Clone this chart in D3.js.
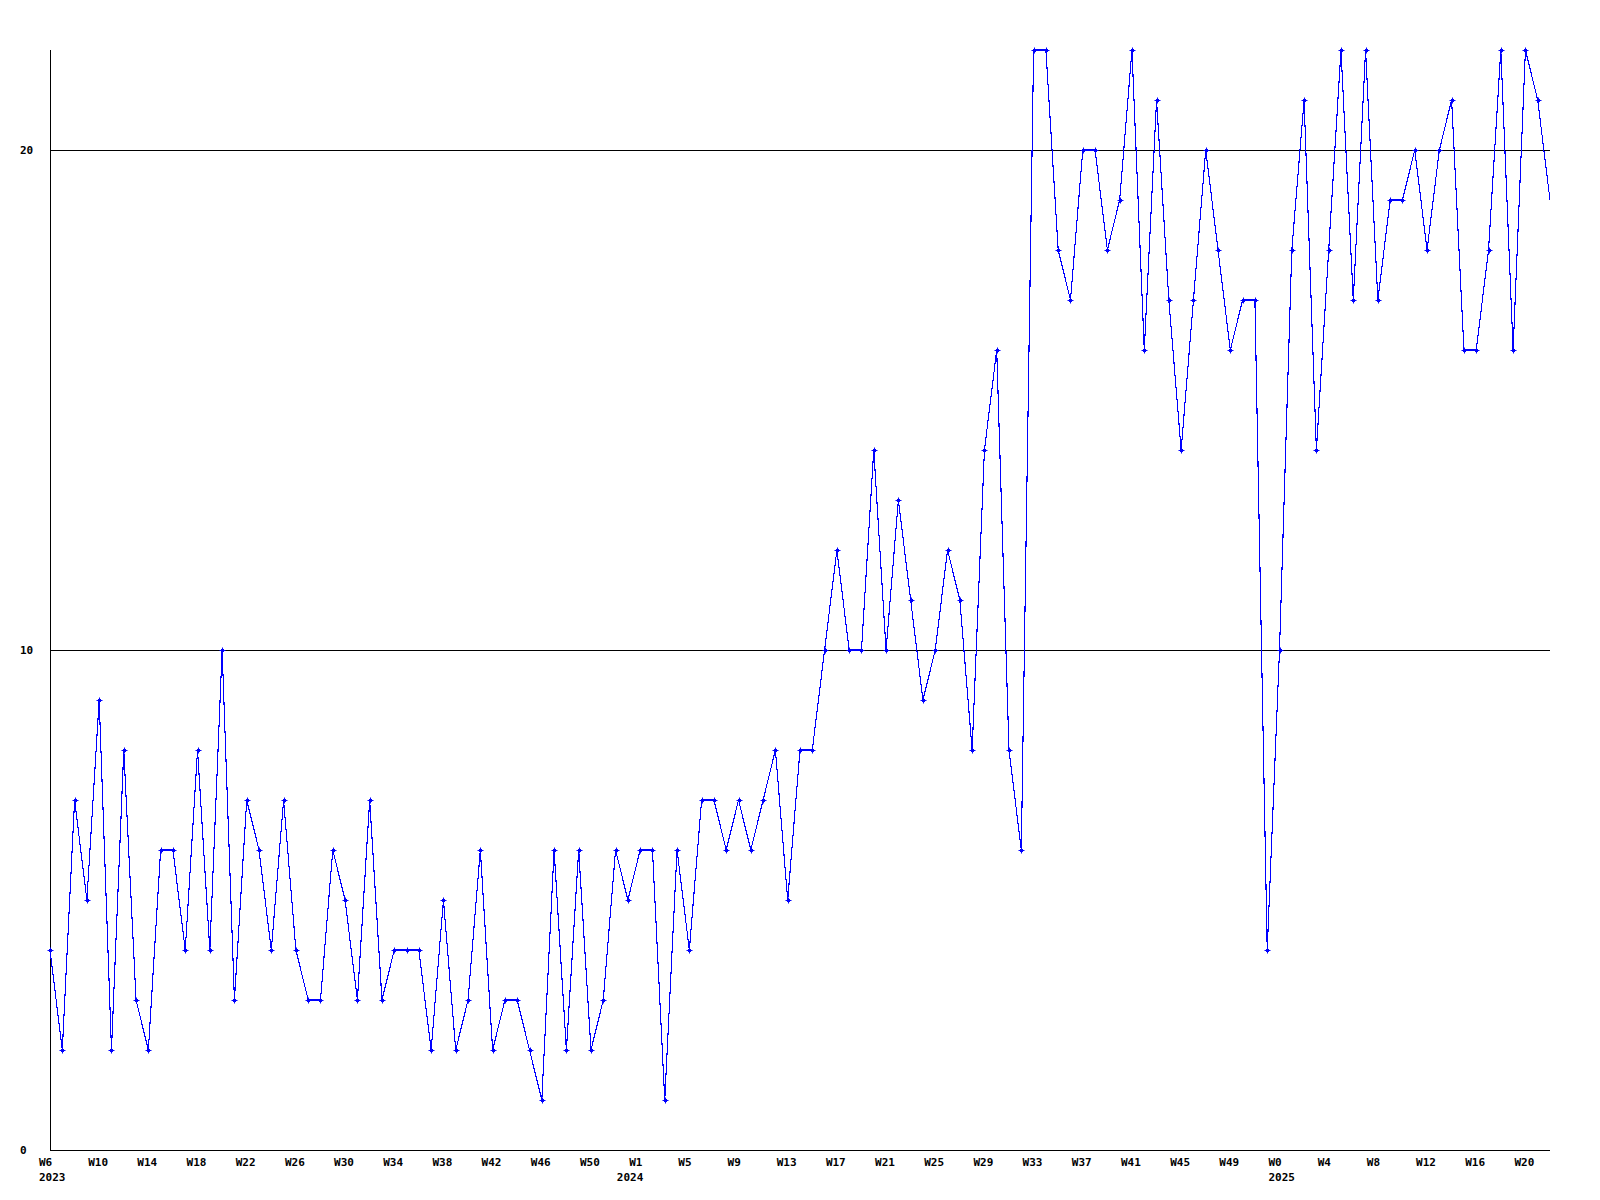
<!DOCTYPE html>
<html>
<head>
<meta charset="utf-8">
<script src="https://cdn.jsdelivr.net/npm/d3@7"></script>
<style>
  html, body { margin: 0; padding: 0; background: #ffffff; }
  svg { display: block; }
  text { font-family: "DejaVu Sans Mono", "Liberation Mono", monospace; font-weight: bold; font-size: 11px; fill: #000; }
</style>
</head>
<body>
<script>
// Weekly values, from 2023 W6 to 2025 W22 (one value per week slot)
const values2023 = [4, 2, 7, 5, 9, 2, 8, 3, 2, 6, 6, 4, 8, 4, 10, 3, 7, 6, 4, 7, 4, 3, 3, 6, 5, 3, 7, 3, 4, 4, 4, 2, 5, 2, 3, 6, 2, 3, 3, 2, 1, 6, 2, 6, 2, 3, 6, 5];
const values2024 = [6, 6, 1, 6, 4, 7, 7, 6, 7, 6, 7, 8, 5, 8, 8, 10, 12, 10, 10, 14, 10, 13, 11, 9, 10, 12, 11, 8, 14, 16, 8, 6, 22, 22, 18, 17, 20, 20, 18, 19, 22, 16, 21, 17, 14, 17, 20, 18, 16, 17, 17, 4];
const values2025 = [10, 18, 21, 14, 18, 22, 17, 22, 17, 19, 19, 20, 18, 20, 21, 16, 16, 18, 22, 16, 22, 21, 19];

// Week tick labels (every fourth week slot) and their slot index
const weekTickLabels = ["W6","W10","W14","W18","W22","W26","W30","W34","W38","W42","W46","W50",
                        "W1","W5","W9","W13","W17","W21","W25","W29","W33","W37","W41","W45","W49",
                        "W0","W4","W8","W12","W16","W20"];
const weekTickSlots  = [0,4,8,12,16,20,24,28,32,36,40,44,
                        48,52,56,60,64,68,72,76,80,84,88,92,96,
                        100,104,108,112,116,120];
const yearLabels = ["2023", "2024", "2025"];
const yearSlots  = [0, 47, 100];
const yTickValues = [0, 10, 20];

const values = values2023.concat(values2024, values2025);
const data = values.map((v, i) => ({ i, v }));

const W = 1600, H = 1200;
const svg = d3.select("body").append("svg").attr("width", W).attr("height", H);

const x = d3.scaleLinear().domain([0, values.length - 1]).range([50, 1550]);
const y = d3.scaleLinear().domain([0, 22]).range([1150, 50]);

// gridlines
svg.append("g").selectAll("line").data(yTickValues.filter(d => d > 0)).join("line")
  .attr("x1", x(0)).attr("x2", x(values.length - 1))
  .attr("y1", d => y(d)).attr("y2", d => y(d))
  .attr("stroke", "#000").attr("stroke-width", 1).attr("shape-rendering", "crispEdges");

// axes lines
svg.append("line").attr("x1", x(0)).attr("x2", x(0)).attr("y1", y(0)).attr("y2", y(22))
  .attr("stroke", "#000").attr("shape-rendering", "crispEdges");
svg.append("line").attr("x1", x(0)).attr("x2", x(values.length - 1)).attr("y1", y(0)).attr("y2", y(0))
  .attr("stroke", "#000").attr("shape-rendering", "crispEdges");

// y labels
svg.append("g").selectAll("text").data(yTickValues).join("text")
  .attr("x", 20).attr("y", d => y(d) + 4).text(d => d);

// x week labels
svg.append("g").selectAll("text").data(weekTickLabels).join("text")
  .attr("x", (d, k) => x(weekTickSlots[k]) - 11).attr("y", 1166).text(d => d);

// year labels
svg.append("g").selectAll("text").data(yearLabels).join("text")
  .attr("x", (d, k) => x(yearSlots[k]) - 11).attr("y", 1181).text(d => d);

// line
const line = d3.line().x(d => x(d.i)).y(d => y(d.v));
svg.append("path").datum(data).attr("d", line)
  .attr("fill", "none").attr("stroke", "#0000ff").attr("stroke-width", 1.1)
  .attr("shape-rendering", "crispEdges");

// markers (last, partial week has none)
const mk = svg.append("g").attr("fill", "#0000ff").attr("stroke", "#0000ff");
const marked = data.slice(0, data.length - 1);
mk.selectAll("path").data(marked).join("path")
  .attr("d", d => {
    const cx = Math.round(x(d.i)), cy = Math.round(y(d.v));
    return `M${cx - 2.5},${cy + 0.5}H${cx + 3.5}M${cx + 0.5},${cy - 2.5}V${cy + 3.5}`;
  })
  .attr("stroke-width", 1).attr("fill", "none");
mk.selectAll("rect").data(marked).join("rect")
  .attr("x", d => Math.round(x(d.i)) - 1).attr("y", d => Math.round(y(d.v)) - 1)
  .attr("width", 3).attr("height", 3).attr("stroke", "none");
</script>
</body>
</html>
